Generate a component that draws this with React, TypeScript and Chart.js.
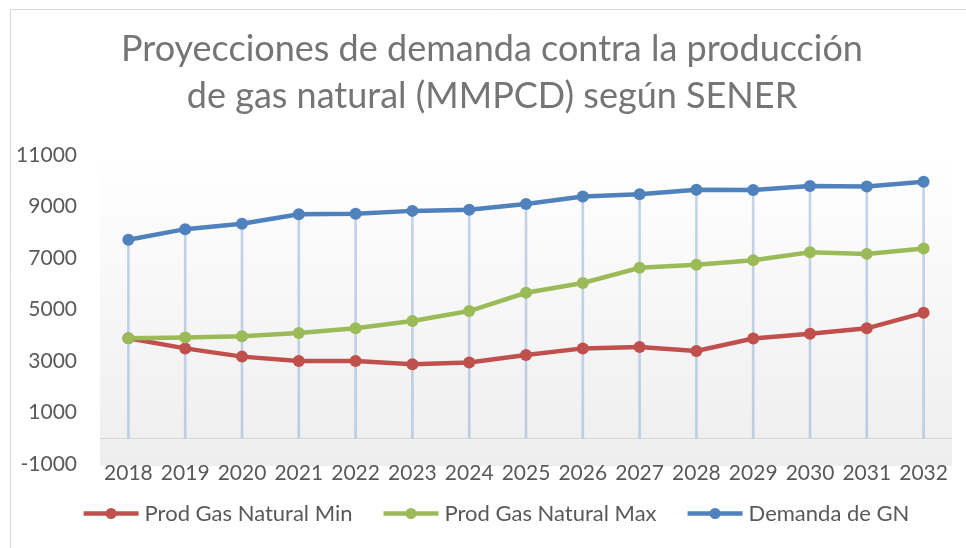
import { useEffect, useRef } from 'react';
import { Chart, registerables } from 'chart.js';

Chart.register(...registerables);

const years = ['2018', '2019', '2020', '2021', '2022', '2023', '2024', '2025', '2026', '2027', '2028', '2029', '2030', '2031', '2032'];
const prodMin = [3880, 3490, 3170, 3000, 3000, 2870, 2940, 3230, 3490, 3540, 3390, 3870, 4060, 4270, 4870];
const prodMax = [3880, 3910, 3960, 4090, 4270, 4550, 4940, 5650, 6030, 6620, 6740, 6910, 7220, 7160, 7370];
const demanda = [7710, 8120, 8330, 8700, 8720, 8830, 8870, 9100, 9390, 9480, 9650, 9640, 9800, 9780, 9960];
const yTicks = [-1000, 1000, 3000, 5000, 7000, 9000, 11000];
const titleLines = ['Proyecciones de demanda contra la producción', 'de gas natural (MMPCD) según SENER'];
const seriesNames = ['Prod Gas Natural Min', 'Prod Gas Natural Max', 'Demanda de GN'];

const RED = '#c0504d';
const GREEN = '#9bbb59';
const BLUE = '#4f81bd';
const FONT = 'Lato, "Open Sans", sans-serif';
const LEGEND_LEAD = 21;

const framePlugin = {
  id: 'frame',
  afterLayout(chart: any) {
    if (chart.titleBlock) chart.titleBlock.left = 32;
    if (chart.legend) {
      chart.legend.left += 5;
      chart.legend.right += 5;
    }
  },
  beforeDraw(chart: any) {
    const { ctx, width, height, chartArea } = chart;
    ctx.save();
    ctx.fillStyle = '#ffffff';
    ctx.fillRect(0, 0, width, height);
    ctx.strokeStyle = '#d9d9d9';
    ctx.lineWidth = 1;
    ctx.beginPath();
    ctx.moveTo(10.5, height);
    ctx.lineTo(10.5, 9.5);
    ctx.lineTo(width, 9.5);
    ctx.stroke();
    const g = ctx.createLinearGradient(0, chartArea.top, 0, chartArea.bottom);
    g.addColorStop(0, '#ffffff');
    g.addColorStop(1, '#eeeeee');
    ctx.fillStyle = g;
    ctx.fillRect(chartArea.left, chartArea.top, chartArea.right - chartArea.left, chartArea.bottom - chartArea.top + 2);
    ctx.restore();
  },
  beforeDatasetsDraw(chart: any) {
    const { ctx, chartArea } = chart;
    const y = Math.round(chart.scales.y.getPixelForValue(0)) + 0.5;
    ctx.save();
    ctx.strokeStyle = '#d9d9d9';
    ctx.lineWidth = 1;
    ctx.beginPath();
    ctx.moveTo(chartArea.left, y);
    ctx.lineTo(chartArea.right, y);
    ctx.stroke();
    ctx.restore();
  },
  afterDraw(chart: any) {
    const legend = chart.legend;
    if (!legend || !legend.legendHitBoxes) return;
    const { ctx } = chart;
    const colors = [RED, GREEN, BLUE];
    legend.legendHitBoxes.forEach((hb: any, i: number) => {
      const item = legend.legendItems[i];
      const color = colors[item.datasetIndex] || '#000';
      const y = hb.top + hb.height / 2;
      const x0 = hb.left + LEGEND_LEAD;
      ctx.save();
      ctx.strokeStyle = color;
      ctx.lineWidth = 4.5;
      ctx.beginPath();
      ctx.moveTo(x0, y);
      ctx.lineTo(x0 + 55, y);
      ctx.stroke();
      ctx.fillStyle = color;
      ctx.beginPath();
      ctx.arc(x0 + 27.5, y, 5.5, 0, Math.PI * 2);
      ctx.fill();
      ctx.restore();
    });
  },
};

export default function App() {
  const ref = useRef<HTMLCanvasElement>(null);
  useEffect(() => {
    if (!ref.current) return;
    const lineDs = (label: string, data: number[], color: string, order: number) => ({
      type: 'line' as const,
      label,
      data,
      borderColor: color,
      backgroundColor: color,
      borderWidth: 4.5,
      pointRadius: 6,
      pointHoverRadius: 6,
      pointBackgroundColor: color,
      pointBorderColor: color,
      pointBorderWidth: 0,
      tension: 0,
      fill: false,
      order,
    });
    const chart = new Chart(ref.current, {
      type: 'line',
      data: {
        labels: years,
        datasets: [
          lineDs(seriesNames[0], prodMin, RED, 2),
          lineDs(seriesNames[1], prodMax, GREEN, 1),
          lineDs(seriesNames[2], demanda, BLUE, 0),
          {
            type: 'bar' as const,
            label: 'drop',
            data: demanda.map((v) => [0, v]) as any,
            backgroundColor: 'rgba(149, 179, 215, 0.55)',
            borderWidth: 0,
            barThickness: 2,
            order: 5,
          } as any,
        ],
      },
      options: {
        animation: false,
        responsive: true,
        maintainAspectRatio: false,
        layout: { padding: { left: 10, right: 14, top: 0, bottom: 13.5 } },
        plugins: {
          tooltip: { enabled: false },
          title: {
            display: true,
            text: titleLines,
            color: '#757575',
            font: { family: FONT, size: 36, weight: 'normal', lineHeight: 47 / 36 },
            padding: { top: 26, bottom: 35 },
          },
          legend: {
            position: 'bottom',
            labels: {
              font: { family: FONT, size: 22 },
              color: '#595959',
              boxWidth: 50 + LEGEND_LEAD,
              boxHeight: 21,
              padding: 10,
              filter: (item: any) => item.datasetIndex < 3,
              sort: (a: any, b: any) => a.datasetIndex - b.datasetIndex,
              generateLabels: (chart: any) => {
                const items = Chart.defaults.plugins.legend.labels.generateLabels(chart);
                return items.map((it: any) => ({ ...it, fillStyle: 'rgba(0,0,0,0)', strokeStyle: 'rgba(0,0,0,0)', lineWidth: 0 }));
              },
            },
          },
        },
        scales: {
          x: {
            type: 'category',
            offset: true,
            grid: { display: false, drawTicks: false },
            border: { display: false },
            ticks: { color: '#595959', font: { family: FONT, size: 21 }, padding: -3, maxRotation: 0, autoSkip: false },
            afterFit: (scale: any) => { scale.height = 28.5; },
          },
          y: {
            min: -1000,
            max: 11000,
            grid: { display: false, drawTicks: false },
            border: { display: false },
            ticks: {
              color: '#595959',
              font: { family: FONT, size: 21 },
              padding: 23,
              callback: (v: any) => String(v),
            },
            afterBuildTicks: (scale: any) => { scale.ticks = yTicks.map((v) => ({ value: v })); },
            afterFit: (scale: any) => { scale.width = 90; },
          },
        },
      },
      plugins: [framePlugin],
    });
    return () => chart.destroy();
  }, []);
  return (
    <div style={{ position: 'absolute', left: 0, top: 0, width: 966, height: 548 }}>
      <canvas ref={ref} />
    </div>
  );
}
